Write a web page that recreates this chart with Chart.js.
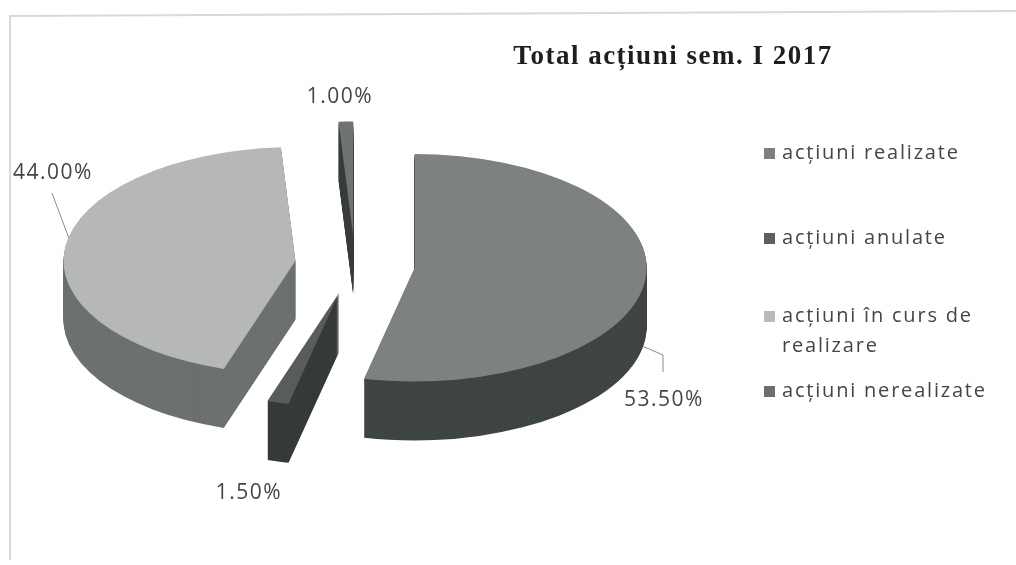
<!DOCTYPE html>
<html>
<head>
<meta charset="utf-8">
<script src="https://cdn.jsdelivr.net/npm/chart.js@4"></script>
<style>
html,body{margin:0;padding:0;background:#fff;}
#wrap{position:relative;width:1016px;height:565px;}
</style>
</head>
<body>
<div id="wrap"><canvas id="c" width="1016" height="565"></canvas></div>
<script>
// ---- data ----
const titleText = 'Total acțiuni sem. I 2017';
const categories = ['acțiuni realizate', 'acțiuni anulate', 'acțiuni în curs de realizare', 'acțiuni nerealizate'];
const values = [53.5, 1.5, 44.0, 1.0];
const valueLabels = ['53.50%', '1.50%', '44.00%', '1.00%'];

// ---- style ----
const topColors = ['#7d8181', '#585c5c', '#b6b8b8', '#6f7373'];
const sideColors = ['#3f4444', '#363a3a', '#6c7070', '#3a3e3e'];
const legendColors = ['#7d8080', '#5b5f5f', '#b9bbbb', '#6b6f6f'];
const legendLines = [['acțiuni realizate'], ['acțiuni anulate'], ['acțiuni în curs de', 'realizare'], ['acțiuni nerealizate']];
const TILT = 0.49, DEPTH = 59, EXPLODE = 60, RADIUS = 232;

function explodeVec(arc) {
  const mid = (arc.startAngle + arc.endAngle) / 2;
  return {dx: Math.cos(mid) * EXPLODE, dy: Math.sin(mid) * EXPLODE};
}

// point on the projected outer edge of slice at angle (deg, clockwise from top)
function edgePoint(arc, angleDeg, depth) {
  const v = explodeVec(arc);
  const a = angleDeg * Math.PI / 180 - Math.PI / 2;
  return {
    x: arc.x + v.dx + Math.cos(a) * arc.outerRadius,
    y: arc.y + (v.dy + Math.sin(a) * arc.outerRadius) * TILT + depth
  };
}

function drawArcAt(ctx, arc, d, color) {
  const cx = arc.x, cy = arc.y;
  const v = explodeVec(arc);
  const saved = arc.options.backgroundColor;
  arc.options.backgroundColor = color;
  ctx.save();
  ctx.translate(cx, cy + d);
  ctx.scale(1, TILT);
  ctx.translate(-cx + v.dx, -cy + v.dy);
  arc.draw(ctx);
  ctx.restore();
  arc.options.backgroundColor = saved;
}

const pie3d = {
  id: 'pie3d',
  beforeDatasetsDraw(chart) {
    const ctx = chart.ctx;
    const arcs = chart.getDatasetMeta(0).data;
    for (let d = DEPTH; d >= 1; d--) {
      arcs.forEach((arc, i) => drawArcAt(ctx, arc, d, sideColors[i]));
    }
    arcs.forEach((arc, i) => drawArcAt(ctx, arc, 0, topColors[i]));
    return false;
  }
};

const decor = {
  id: 'decor',
  afterDraw(chart) {
    const ctx = chart.ctx;
    const arcs = chart.getDatasetMeta(0).data;
    ctx.save();
    // frame
    ctx.strokeStyle = '#d9d9d9';
    ctx.lineWidth = 2;
    ctx.beginPath();
    ctx.moveTo(10, 560); ctx.lineTo(10, 16); ctx.lineTo(1016, 11);
    ctx.stroke();

    // title
    ctx.fillStyle = '#1e1e1e';
    ctx.font = 'bold 27px "Liberation Serif", "Times New Roman", serif';
    ctx.letterSpacing = '1.5px';
    ctx.textAlign = 'center';
    ctx.textBaseline = 'middle';
    ctx.fillText(titleText, 673, 57);

    // legend
    ctx.font = '20px "Open Sans", sans-serif';
    ctx.letterSpacing = '1.8px';
    ctx.textAlign = 'left';
    ctx.textBaseline = 'middle';
    const legendY = [153, 238, 316, 391];
    legendLines.forEach((lines, i) => {
      ctx.fillStyle = legendColors[i];
      ctx.fillRect(764, legendY[i] - 5, 11, 11);
      ctx.fillStyle = '#454545';
      lines.forEach((t, k) => ctx.fillText(t, 782, legendY[i] + k * 30));
    });

    // value labels
    ctx.font = '21px "Open Sans", sans-serif';
    ctx.letterSpacing = '1.5px';
    ctx.fillStyle = '#454545';
    ctx.strokeStyle = '#8a8a8a';
    ctx.lineWidth = 1;
    // realizate
    let p = edgePoint(arcs[0], 100, DEPTH);
    ctx.beginPath(); ctx.moveTo(p.x, p.y); ctx.lineTo(663, 355); ctx.lineTo(663, 372); ctx.stroke();
    ctx.textAlign = 'left';
    ctx.fillText(valueLabels[0], 624, 400);
    // in curs
    p = edgePoint(arcs[2], 282, 0);
    ctx.beginPath(); ctx.moveTo(p.x, p.y); ctx.lineTo(52, 193); ctx.stroke();
    ctx.fillText(valueLabels[2], 13, 173);
    // anulate / nerealizate
    ctx.textAlign = 'center';
    ctx.fillText(valueLabels[1], 249, 493);
    ctx.fillText(valueLabels[3], 340, 97);
    ctx.restore();
  }
};

new Chart(document.getElementById('c'), {
  type: 'pie',
  data: {
    labels: categories,
    datasets: [{
      data: values,
      backgroundColor: topColors,
      borderWidth: 0,
      clip: false
    }]
  },
  options: {
    responsive: false,
    animation: false,
    events: [],
    radius: RADIUS,
    rotation: 0,
    layout: { padding: { left: 0, top: 0, right: 306, bottom: 36 } },
    plugins: { legend: { display: false }, title: { display: false }, tooltip: { enabled: false } }
  },
  plugins: [pie3d, decor]
});
</script>
</body>
</html>
